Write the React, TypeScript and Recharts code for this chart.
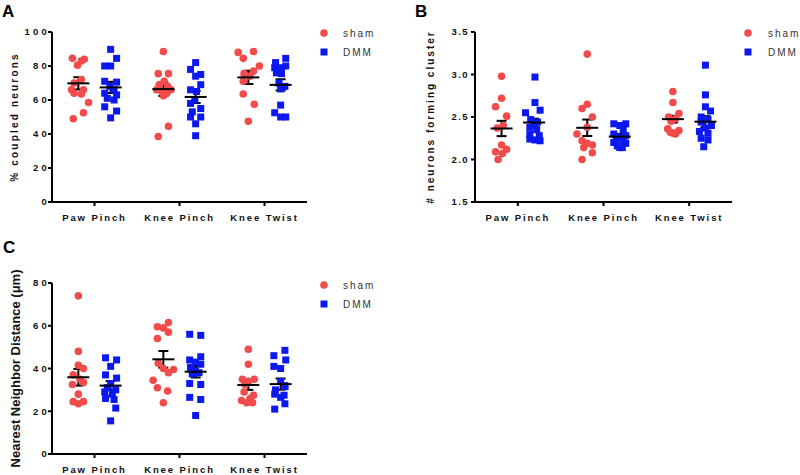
import React from 'react';
import { ScatterChart, Scatter, XAxis, YAxis, ErrorBar, Legend } from 'recharts';

const categories = ['Paw Pinch', 'Knee Pinch', 'Knee Twist'];
const seriesNames = ['sham', 'DMM'];
const yTitles = ['% coupled neurons', '# neurons forming cluster', 'Nearest Neighbor Distance (μm)'];
const panelLetters = ['A', 'B', 'C'];

// Panel A: % coupled neurons
const aShamValues = [
  [84.5, 84, 83, 80.5, 72, 70, 66, 66, 64, 63.5, 58.5, 52.5, 49],
  [88.5, 75.5, 75.5, 71, 69, 68, 66, 66, 65, 64, 62.5, 44.5, 38.5],
  [88, 88.5, 84.5, 80, 77, 75.5, 74, 71, 63.5, 57.5, 47.5],
];
const aShamJitter = [
  [-0.07, 0.07, 0.035, -0.01, 0.035, -0.05, -0.08, 0.06, -0.05, 0.035, 0.12, 0.06, -0.06],
  [0, -0.06, 0.06, 0.01, -0.05, 0.05, -0.08, 0.09, -0.02, 0.04, 0, 0.06, -0.06],
  [-0.12, 0.06, -0.06, 0.13, 0.06, -0.05, 0.02, -0.06, -0.06, 0.07, 0],
];
const aDmmValues = [
  [89.8, 84.5, 80, 80, 71, 70.5, 68, 66, 64, 63, 61, 60, 56, 53.5, 49.5],
  [82, 78, 75, 74, 69, 66, 65, 60, 58, 55, 53, 50, 50, 46, 39],
  [84.5, 82, 80, 79, 79, 76, 75.5, 70, 68, 66.5, 57, 52.5, 50, 50],
];
const aDmmJitter = [
  [0, 0.07, -0.07, 0, -0.07, 0.07, -0.01, 0.04, -0.07, 0.07, -0.04, 0.04, -0.07, 0.07, 0],
  [0, -0.06, 0.06, 0, 0.06, -0.06, 0.01, -0.01, -0.06, 0.06, -0.04, -0.06, 0.06, 0, 0],
  [0.06, -0.06, 0.06, -0.07, 0.01, -0.05, 0.01, -0.02, 0.05, 0, 0, -0.07, 0, 0.06],
];
const aShamMean = [69.8, 66.4, 73.3];
const aShamSem = [3.6, 4.0, 3.9];
const aDmmMean = [67.4, 61.8, 68.9];
const aDmmSem = [3.3, 3.6, 3.3];
const aTicks = [0, 20, 40, 60, 80, 100];

// Panel B: # neurons forming cluster
const bShamValues = [
  [2.98, 2.72, 2.62, 2.51, 2.4, 2.37, 2.17, 2.12, 2.09, 2.07, 2.0],
  [3.24, 2.65, 2.6, 2.5, 2.38, 2.3, 2.22, 2.19, 2.17, 2.14, 2.08, 2.0],
  [2.8, 2.67, 2.54, 2.5, 2.48, 2.45, 2.36, 2.34, 2.32, 2.31, 2.3],
];
const bShamJitter = [
  [0, 0, -0.07, 0.06, 0.02, -0.05, 0, 0.06, -0.07, 0.01, -0.04],
  [0, 0, -0.06, 0.06, 0, -0.12, -0.06, 0, 0.06, -0.04, 0.06, -0.06],
  [0, 0, 0.07, -0.05, 0.03, -0.02, -0.06, 0.07, -0.03, 0, 0.03],
];
const bDmmValues = [
  [2.97, 2.67, 2.58, 2.55, 2.47, 2.44, 2.42, 2.38, 2.35, 2.3, 2.28, 2.24, 2.23, 2.22],
  [2.42, 2.42, 2.4, 2.35, 2.3, 2.28, 2.26, 2.24, 2.22, 2.2, 2.19, 2.16, 2.14, 2.14],
  [3.11, 2.76, 2.62, 2.57, 2.5, 2.47, 2.44, 2.4, 2.37, 2.33, 2.31, 2.25, 2.23, 2.15],
];
const bDmmJitter = [
  [0.01, 0.01, 0.07, -0.1, -0.04, 0.04, 0, -0.05, 0.03, -0.05, 0.06, -0.05, 0.01, 0.07],
  [-0.07, 0.07, 0, 0.04, -0.07, 0.07, 0, -0.04, 0.04, -0.07, 0.07, -0.03, 0.03, 0],
  [0, 0, 0, 0.06, -0.05, 0.03, -0.05, 0.07, 0, -0.07, 0.03, -0.05, 0.03, -0.02],
];
const bShamMean = [2.365, 2.373, 2.475];
const bShamSem = [0.09, 0.097, 0.04];
const bDmmMean = [2.435, 2.27, 2.445];
const bDmmSem = [0.045, 0.03, 0.065];
const bTicks = [1.5, 2.0, 2.5, 3.0, 3.5];

// Panel C: Nearest Neighbor Distance (μm)
const cShamValues = [
  [74, 48, 41.5, 40, 37, 35, 33.5, 32.5, 28, 24.5, 23.5, 24.5],
  [61.5, 59.5, 59, 57, 54, 42.5, 40, 39.5, 38, 34.5, 31, 29.5, 24],
  [49, 42, 35, 35, 34, 32.5, 29, 27.5, 26, 25, 24, 24],
];
const cShamJitter = [
  [0, 0, 0, 0.06, -0.06, 0.02, 0.06, -0.07, 0, -0.06, 0, 0.06],
  [0.06, -0.07, 0, 0.06, -0.07, -0.06, 0, 0.12, 0.06, -0.12, -0.07, 0.05, 0],
  [0, 0, -0.07, 0.07, 0, -0.04, -0.05, 0.06, 0.02, -0.08, 0.05, -0.02],
];
const cDmmValues = [
  [45, 44, 41, 37, 35.5, 33, 31, 30, 29, 28, 26, 25.5, 21.5, 15.5],
  [56, 55.5, 45.5, 44, 43, 42, 40.5, 39, 38, 37.5, 33, 32.5, 26.5, 25.5, 18],
  [48.5, 46, 44, 41, 40, 34, 32, 31.5, 30, 28, 27.5, 26.5, 23.5, 21],
];
const cDmmJitter = [
  [-0.06, 0.07, 0, -0.06, 0.07, 0, -0.04, 0.06, -0.07, 0.02, -0.06, 0.04, 0.06, 0],
  [-0.07, 0.06, 0.06, -0.07, 0, 0.06, -0.06, 0, 0.04, -0.04, -0.07, 0.06, -0.07, 0.06, 0],
  [0.05, -0.08, 0.06, -0.08, 0, 0, 0.05, 0.05, -0.06, -0.07, 0.04, 0, 0.05, -0.07],
];
const cShamMean = [35.9, 44.3, 32.3];
const cShamSem = [3.9, 3.9, 2.3];
const cDmmMean = [32.0, 38.5, 32.7];
const cDmmSem = [2.1, 2.7, 2.6];
const cTicks = [0, 20, 40, 60, 80];

const SHAM_COLOR = '#F24B4B';
const DMM_COLOR = '#0B18F0';
const GROUP_OFFSET = 0.19;
const FONT = 'Arial, "Liberation Sans", Helvetica, sans-serif';

type Pt = { x: number; y: number; sem?: number };

function buildPoints(values: number[][], jitter: number[][], side: number): Pt[] {
  const out: Pt[] = [];
  values.forEach((vals, i) =>
    vals.forEach((v, j) => out.push({ x: i + 0.5 + side * GROUP_OFFSET + jitter[i][j], y: v }))
  );
  return out;
}
function buildMeans(mean: number[], sem: number[], side: number): Pt[] {
  return mean.map((m, i) => ({ x: i + 0.5 + side * GROUP_OFFSET, y: m, sem: sem[i] }));
}

const CircleShape = (p: any) => <circle cx={p.cx} cy={p.cy} r={3.8} fill={SHAM_COLOR} />;
const SquareShape = (p: any) => (
  <rect x={p.cx - 3.5} y={p.cy - 3.5} width={7} height={7} fill={DMM_COLOR} />
);
const MeanShape = (p: any) => (
  <line x1={p.cx - 11} x2={p.cx + 11} y1={p.cy} y2={p.cy} stroke="#000" strokeWidth={2} />
);

function renderLegend(props: any, iconLeft: number, textGap: number) {
  const items = (props.payload || [])
    .filter((e: any) => e.type !== 'none')
    .slice()
    .sort((a: any, b: any) => seriesNames.indexOf(a.value) - seriesNames.indexOf(b.value));
  return (
    <div>
      {items.map((e: any) => (
        <div key={e.value} style={{ display: 'flex', alignItems: 'center', height: 19 }}>
          <svg width={8} height={8} style={{ marginLeft: iconLeft, flex: 'none' }}>
            {e.type === 'circle' ? (
              <circle cx={4} cy={4} r={3.8} fill={e.color} />
            ) : (
              <rect x={0.5} y={0.5} width={7} height={7} fill={e.color} />
            )}
          </svg>
          <span
            style={{
              marginLeft: textGap,
              fontSize: 10,
              letterSpacing: '2px',
              color: '#333',
              fontFamily: FONT,
              lineHeight: '19px',
              whiteSpace: 'nowrap',
            }}
          >
            {e.value}
          </span>
        </div>
      ))}
    </div>
  );
}

function makeTick(fmt: (v: number) => string, spacing: number, anchor: 'middle' | 'end', dy: string) {
  return (props: any) => {
    const { x, y, payload } = props;
    return (
      <text
        x={x}
        y={y}
        dy={dy}
        textAnchor={anchor}
        fontSize={9.5}
        fontWeight={700}
        fill="#111"
        fontFamily={FONT}
        style={{ letterSpacing: `${spacing}px` }}
      >
        {fmt(payload.value)}
      </text>
    );
  };
}

type PanelProps = {
  left: number;
  top: number;
  width: number;
  height: number;
  marginTop: number;
  marginRight: number;
  yAxisWidth: number;
  xAxisHeight: number;
  legendWidth: number;
  legendTop: number;
  iconLeft: number;
  textGap: number;
  domain: [number, number];
  ticks: number[];
  tickFmt: (v: number) => string;
  yTickSpacing: number;
  yTickMargin: number;
  shamValues: number[][];
  shamJitter: number[][];
  dmmValues: number[][];
  dmmJitter: number[][];
  shamMean: number[];
  shamSem: number[];
  dmmMean: number[];
  dmmSem: number[];
};

function Panel(p: PanelProps) {
  const shamPts = buildPoints(p.shamValues, p.shamJitter, -1);
  const dmmPts = buildPoints(p.dmmValues, p.dmmJitter, 1);
  const shamMeans = buildMeans(p.shamMean, p.shamSem, -1);
  const dmmMeans = buildMeans(p.dmmMean, p.dmmSem, 1);
  const xFmt = (v: number) => categories[Math.floor(v)];
  return (
    <div style={{ position: 'absolute', left: p.left, top: p.top }}>
      <ScatterChart
        width={p.width}
        height={p.height}
        margin={{ top: p.marginTop, right: p.marginRight, bottom: 0, left: 0 }}
      >
        <XAxis
          type="number"
          dataKey="x"
          domain={[0, 3]}
          ticks={[0.5, 1.5, 2.5]}
          interval={0}
          tickFormatter={xFmt}
          height={p.xAxisHeight}
          axisLine={{ stroke: '#000', strokeWidth: 2 }}
          tickLine={{ stroke: '#000', strokeWidth: 2 }}
          tickSize={4}
          tickMargin={8}
          tick={makeTick(xFmt, 1.9, 'middle', '0.71em')}
          allowDataOverflow
        />
        <YAxis
          type="number"
          dataKey="y"
          domain={p.domain}
          ticks={p.ticks}
          interval={0}
          tickFormatter={p.tickFmt}
          width={p.yAxisWidth}
          axisLine={{ stroke: '#000', strokeWidth: 2 }}
          tickLine={{ stroke: '#000', strokeWidth: 2 }}
          tickSize={4}
          tickMargin={p.yTickMargin}
          tick={makeTick(p.tickFmt, p.yTickSpacing, 'end', '0.355em')}
          allowDataOverflow
        />
        <Legend
          layout="vertical"
          align="right"
          verticalAlign="top"
          width={p.legendWidth}
          wrapperStyle={{ top: p.legendTop, width: p.legendWidth }}
          content={(lp: any) => renderLegend(lp, p.iconLeft, p.textGap)}
        />
        <Scatter
          name={seriesNames[0]}
          data={shamPts}
          fill={SHAM_COLOR}
          legendType="circle"
          shape={CircleShape}
          isAnimationActive={false}
        />
        <Scatter
          name={seriesNames[1]}
          data={dmmPts}
          fill={DMM_COLOR}
          legendType="square"
          shape={SquareShape}
          isAnimationActive={false}
        />
        <Scatter
          name="sham mean"
          data={shamMeans}
          fill="#000"
          legendType="none"
          shape={MeanShape}
          isAnimationActive={false}
        >
          <ErrorBar dataKey="sem" direction="y" width={5} stroke="#000" strokeWidth={2} isAnimationActive={false} />
        </Scatter>
        <Scatter
          name="DMM mean"
          data={dmmMeans}
          fill="#000"
          legendType="none"
          shape={MeanShape}
          isAnimationActive={false}
        >
          <ErrorBar dataKey="sem" direction="y" width={5} stroke="#000" strokeWidth={2} isAnimationActive={false} />
        </Scatter>
      </ScatterChart>
    </div>
  );
}

function VTitle({ x, y, text, size, spacing }: { x: number; y: number; text: string; size: number; spacing: number }) {
  return (
    <text
      x={x}
      y={y}
      transform={`rotate(-90, ${x}, ${y})`}
      textAnchor="middle"
      dominantBaseline="central"
      fontSize={size}
      fontWeight={700}
      fill="#111"
      fontFamily={FONT}
      style={{ letterSpacing: `${spacing}px` }}
    >
      {text}
    </text>
  );
}

export default function App() {
  return (
    <div
      style={{
        position: 'absolute',
        left: 0,
        top: 0,
        width: 800,
        height: 475,
        background: '#fff',
        fontFamily: FONT,
      }}
    >
      <Panel
        left={0}
        top={0}
        width={400}
        height={230}
        marginTop={32}
        marginRight={23}
        yAxisWidth={52}
        xAxisHeight={28}
        legendWidth={70}
        legendTop={23.5}
        iconLeft={13}
        textGap={15}
        domain={[0, 100]}
        ticks={aTicks}
        tickFmt={(v) => String(v)}
        yTickSpacing={3.2}
        yTickMargin={-2}
        shamValues={aShamValues}
        shamJitter={aShamJitter}
        dmmValues={aDmmValues}
        dmmJitter={aDmmJitter}
        shamMean={aShamMean}
        shamSem={aShamSem}
        dmmMean={aDmmMean}
        dmmSem={aDmmSem}
      />
      <Panel
        left={400}
        top={0}
        width={400}
        height={230}
        marginTop={32}
        marginRight={0}
        yAxisWidth={75}
        xAxisHeight={28}
        legendWidth={68}
        legendTop={23.5}
        iconLeft={12}
        textGap={16}
        domain={[1.5, 3.5]}
        ticks={bTicks}
        tickFmt={(v) => v.toFixed(1)}
        yTickSpacing={1.4}
        yTickMargin={2}
        shamValues={bShamValues}
        shamJitter={bShamJitter}
        dmmValues={bDmmValues}
        dmmJitter={bDmmJitter}
        shamMean={bShamMean}
        shamSem={bShamSem}
        dmmMean={bDmmMean}
        dmmSem={bDmmSem}
      />
      <Panel
        left={0}
        top={230}
        width={400}
        height={245}
        marginTop={53}
        marginRight={23}
        yAxisWidth={52}
        xAxisHeight={21}
        legendWidth={70}
        legendTop={45.5}
        iconLeft={13}
        textGap={15}
        domain={[0, 80]}
        ticks={cTicks}
        tickFmt={(v) => String(v)}
        yTickSpacing={3.2}
        yTickMargin={-2}
        shamValues={cShamValues}
        shamJitter={cShamJitter}
        dmmValues={cDmmValues}
        dmmJitter={cDmmJitter}
        shamMean={cShamMean}
        shamSem={cShamSem}
        dmmMean={cDmmMean}
        dmmSem={cDmmSem}
      />
      <svg
        width={800}
        height={475}
        style={{ position: 'absolute', left: 0, top: 0, pointerEvents: 'none' }}
      >
        <VTitle x={14} y={117} text={yTitles[0]} size={10} spacing={2.2} />
        <VTitle x={430} y={117} text={yTitles[1]} size={10} spacing={2} />
        <VTitle x={15} y={368.5} text={yTitles[2]} size={13} spacing={0} />
        <text x={2} y={17} fontSize={17} fontWeight={700} fontFamily={FONT} fill="#000">{panelLetters[0]}</text>
        <text x={415} y={17} fontSize={17} fontWeight={700} fontFamily={FONT} fill="#000">{panelLetters[1]}</text>
        <text x={3} y={253} fontSize={17} fontWeight={700} fontFamily={FONT} fill="#000">{panelLetters[2]}</text>
      </svg>
    </div>
  );
}
